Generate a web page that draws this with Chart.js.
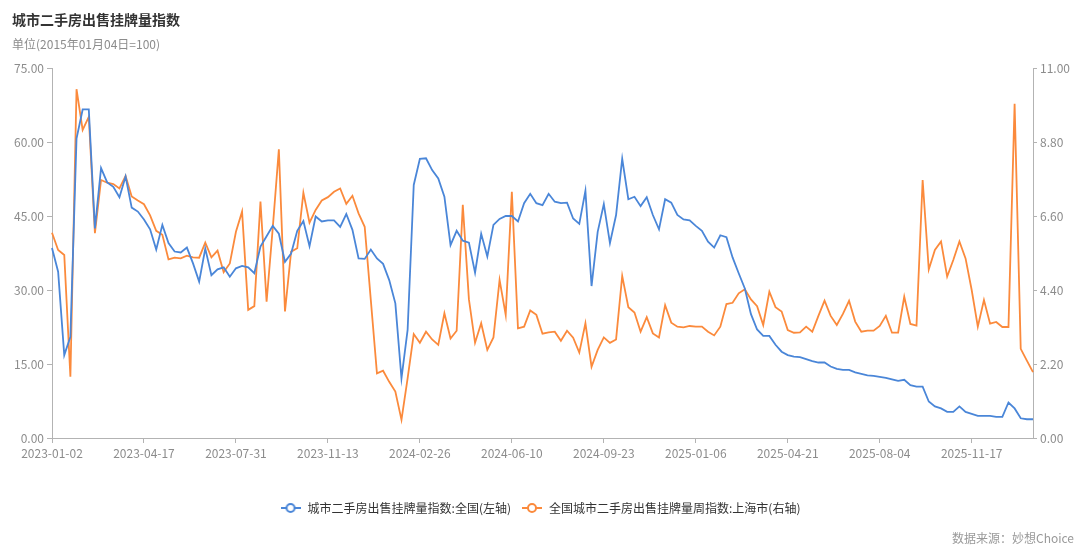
<!DOCTYPE html>
<html><head><meta charset="utf-8">
<script src="https://cdn.jsdelivr.net/npm/chart.js@4/dist/chart.umd.min.js"></script>
<style>
html,body{margin:0;padding:0;background:#fff;}
#wrap{position:relative;width:1080px;height:550px;font-family:"Noto Sans CJK SC","Noto Sans",sans-serif;}
#c{position:absolute;left:0;top:0;}
.t{position:absolute;white-space:nowrap;line-height:1;}
#title{left:12px;top:12px;font-size:14px;font-weight:bold;color:#333;}
#sub{left:12px;top:38px;font-size:12px;color:#8c8c8c;}
#src{right:6px;top:532px;font-size:12px;color:#999;}
</style></head>
<body>
<div id="wrap">
<canvas id="c" width="1080" height="550"></canvas>
<div class="t" id="title">城市二手房出售挂牌量指数</div>
<div class="t" id="sub">单位(2015年01月04日=100)</div>
<div class="t" id="src">数据来源：妙想Choice</div>
</div>
<script>
const seriesNames = ['城市二手房出售挂牌量指数:全国(左轴)', '全国城市二手房出售挂牌量周指数:上海市(右轴)'];
const xTickLabels = ['2023-01-02','2023-04-17','2023-07-31','2023-11-13','2024-02-26','2024-06-10','2024-09-23','2025-01-06','2025-04-21','2025-08-04','2025-11-17'];
const leftTicks = [0, 15, 30, 45, 60, 75];
const rightTicks = [0, 2.2, 4.4, 6.6, 8.8, 11];

const nationalIndex = [
38.5,33.7,16.8,20.5,60.7,66.6,66.6,42.5,54.7,51.8,50.9,48.8,53.0,46.7,45.9,44.3,42.3,38.2,43.2,39.5,
37.8,37.6,38.6,35.4,31.7,38.4,33.0,34.2,34.6,32.7,34.4,34.9,34.6,33.4,38.8,40.9,43.0,41.4,35.7,37.4,
42.0,44.0,38.9,44.9,43.9,44.1,44.1,42.8,45.4,42.2,36.4,36.3,38.2,36.4,35.3,32.0,27.3,12.1,21.9,51.3,
56.6,56.7,54.3,52.6,48.9,39.1,42.0,40.0,39.6,33.5,41.4,36.8,43.2,44.4,45.0,45.0,43.9,47.6,49.5,47.6,
47.2,49.5,47.9,47.6,47.7,44.5,43.4,50.1,30.8,41.8,47.4,39.5,45.2,56.6,48.4,48.9,47.0,48.8,45.2,42.3,
48.4,47.7,45.2,44.3,44.1,43.0,42.0,39.8,38.6,41.1,40.7,36.6,33.4,30.3,25.1,22.0,20.7,20.7,18.9,17.5,
16.8,16.5,16.4,16.0,15.6,15.3,15.3,14.5,14.0,13.8,13.8,13.3,13.0,12.7,12.6,12.4,12.2,11.9,11.6,11.8,
10.7,10.4,10.4,7.4,6.4,6.0,5.3,5.3,6.4,5.3,4.9,4.5,4.5,4.5,4.3,4.3,7.2,6.0,4.0,3.8,
3.8];

const shanghaiWeekly = [
6.10,5.59,5.44,1.82,10.37,9.16,9.55,6.09,7.67,7.59,7.55,7.42,7.79,7.18,7.06,6.95,6.62,6.16,6.04,5.31,
5.36,5.34,5.42,5.37,5.36,5.81,5.37,5.57,4.93,5.19,6.13,6.73,3.81,3.92,7.03,4.05,6.23,8.58,3.76,5.54,
5.64,7.29,6.40,6.78,7.06,7.16,7.32,7.42,6.96,7.20,6.68,6.28,4.10,1.92,2.00,1.67,1.38,0.54,1.77,3.09,
2.83,3.16,2.93,2.77,3.71,2.96,3.19,6.93,4.12,2.83,3.41,2.62,2.99,4.70,3.66,7.32,3.26,3.31,3.79,3.66,
3.10,3.14,3.16,2.89,3.19,2.98,2.54,3.41,2.12,2.62,2.99,2.83,2.93,4.82,3.89,3.73,3.16,3.59,3.11,2.99,
3.95,3.43,3.31,3.29,3.33,3.31,3.31,3.16,3.05,3.31,3.98,4.02,4.30,4.42,4.12,3.92,3.36,4.35,3.89,3.76,
3.21,3.13,3.14,3.31,3.16,3.63,4.08,3.63,3.36,3.69,4.08,3.46,3.16,3.19,3.19,3.33,3.63,3.13,3.13,4.20,
3.39,3.34,7.67,5.01,5.59,5.84,4.80,5.29,5.84,5.34,4.40,3.31,4.10,3.40,3.45,3.30,3.30,9.94,2.65,2.30,
1.96];

// weekly category dates starting 2023-01-02
const categories = [];
{
  const start = Date.UTC(2023, 0, 2);
  for (let i = 0; i < nationalIndex.length; i++) {
    categories.push(new Date(start + i * 7 * 86400000).toISOString().slice(0, 10));
  }
}

const BLUE = '#4a86d8';
const ORANGE = '#fb8a3c';
const AXIS = '#b3b3b3';
const TICK = '#8c8c8c';
const FAMILY = '"Noto Sans CJK SC","Noto Sans",sans-serif';

function marker(color) {
  const c = document.createElement('canvas');
  c.width = 20; c.height = 12;
  const g = c.getContext('2d');
  g.strokeStyle = color; g.lineWidth = 2;
  g.beginPath(); g.moveTo(0, 6); g.lineTo(20, 6); g.stroke();
  g.fillStyle = '#fff';
  g.beginPath(); g.arc(10, 6, 4, 0, Math.PI * 2); g.fill(); g.stroke();
  return c;
}

new Chart(document.getElementById('c'), {
  type: 'line',
  data: {
    labels: categories,
    datasets: [
      { label: seriesNames[0], data: nationalIndex, yAxisID: 'y', borderColor: BLUE, backgroundColor: BLUE,
        borderWidth: 1.8, pointRadius: 0, pointHoverRadius: 0, pointStyle: marker(BLUE), tension: 0, fill: false },
      { label: seriesNames[1], data: shanghaiWeekly, yAxisID: 'y1', borderColor: ORANGE, backgroundColor: ORANGE,
        borderWidth: 1.8, pointRadius: 0, pointHoverRadius: 0, pointStyle: marker(ORANGE), tension: 0, fill: false }
    ]
  },
  options: {
    responsive: false,
    animation: false,
    devicePixelRatio: 1,
    layout: { padding: { top: 68, bottom: 26, left: 0, right: 0 } },
    plugins: {
      title: { display: false },
      tooltip: { enabled: false },
      legend: {
        position: 'bottom',
        labels: { usePointStyle: true, pointStyleWidth: 22, color: '#333', padding: 10,
                  font: { size: 12, family: FAMILY } }
      }
    },
    scales: {
      x: {
        type: 'category',
        offset: false,
        grid: { display: true, drawOnChartArea: false, drawTicks: true, tickLength: 5, color: AXIS },
        border: { display: true, color: AXIS },
        ticks: { autoSkip: false, maxRotation: 0, minRotation: 0, color: TICK, padding: 3,
                 font: { size: 12, family: FAMILY },
                 callback: function (v) { return this.getLabelForValue(v); } },
        afterBuildTicks: s => { s.ticks = s.ticks.filter(t => xTickLabels.includes(categories[t.value])); },
        afterFit: s => { s.height = 54; }
      },
      y: {
        position: 'left', min: 0, max: 75,
        grid: { drawOnChartArea: false, tickLength: 5, color: AXIS },
        border: { display: true, color: AXIS },
        ticks: { color: TICK, padding: 3, font: { size: 12, family: FAMILY }, callback: v => Number(v).toFixed(2) },
        afterBuildTicks: s => { s.ticks = leftTicks.map(v => ({ value: v })); },
        afterFit: s => { s.width = 52; }
      },
      y1: {
        position: 'right', min: 0, max: 11,
        grid: { drawOnChartArea: false, tickLength: 4, color: AXIS },
        border: { display: true, color: AXIS },
        ticks: { color: TICK, padding: 3, font: { size: 12, family: FAMILY }, callback: v => Number(v).toFixed(2) },
        afterBuildTicks: s => { s.ticks = rightTicks.map(v => ({ value: v })); },
        afterFit: s => { s.width = 47; }
      }
    }
  }
});
</script>
</body></html>
